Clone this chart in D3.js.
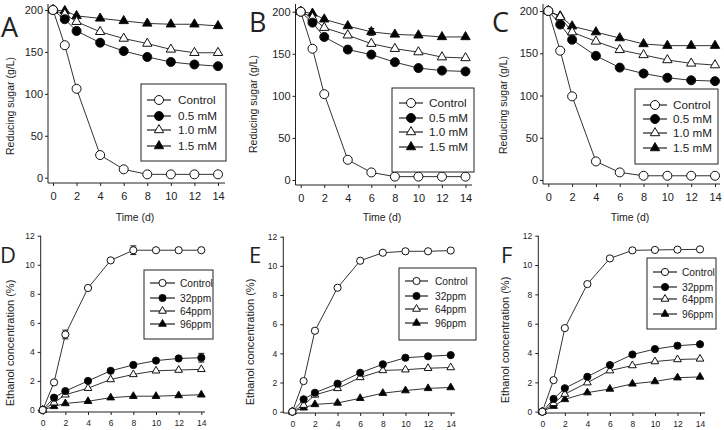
<!DOCTYPE html>
<html><head><meta charset="utf-8">
<script src="https://cdn.jsdelivr.net/npm/d3@7/dist/d3.min.js"></script>
<style>
body{margin:0;background:#fff}
svg{display:block}
text{font-family:"Liberation Sans",Arial,sans-serif;fill:#222}
</style>
</head><body>
<svg id="chart" width="724" height="430"></svg>
<script>
// ---------- DATA ----------
const days = [0, 1, 2, 4, 6, 8, 10, 12, 14];
const xTicks = [0, 2, 4, 6, 8, 10, 12, 14];
const sugarTicks = [0, 50, 100, 150, 200];
const ethanolTicks = [0, 2, 4, 6, 8, 10, 12];
const sugarLabels = ["Control", "0.5 mM", "1.0 mM", "1.5 mM"];
const ethanolLabels = ["Control", "32ppm", "64ppm", "96ppm"];

// Reducing sugar (g/L)
const A_control = [200, 158, 106, 27, 10, 4, 4, 4, 4];
const A_05 = [200, 189, 175, 161, 151, 144, 138, 135, 133];
const A_10 = [200, 195, 186, 174, 166, 160, 153, 149, 149];
const A_15 = [200, 199, 193, 190, 187, 184, 183, 183, 181];

const B_control = [200, 156, 102, 24, 9, 4, 4, 4, 4];
const B_05 = [200, 187, 170, 155, 149, 140, 133, 130, 129];
const B_10 = [200, 193, 181, 172, 162, 156, 152, 146, 145];
const B_15 = [200, 198, 191, 183, 176, 173, 172, 170, 170];

const C_control = [200, 153, 99, 22, 9, 5, 5, 5, 5];
const C_05 = [200, 184, 166, 147, 133, 126, 121, 118, 117];
const C_10 = [200, 193, 175, 164, 154, 148, 142, 138, 136];
const C_15 = [200, 194, 182, 175, 168, 161, 159, 159, 159];

// Ethanol concentration (%)
const D_control = [0, 1.9, 5.2, 8.4, 10.3, 11.0, 11.0, 11.0, 11.0];
const D_32 = [0, 0.85, 1.3, 2.0, 2.7, 3.1, 3.4, 3.55, 3.6];
const D_64 = [0, 0.5, 1.05, 1.5, 2.1, 2.45, 2.7, 2.75, 2.8];
const D_96 = [0, 0.25, 0.45, 0.6, 0.85, 0.95, 0.95, 1.0, 1.05];

const E_control = [0, 2.1, 5.55, 8.5, 10.35, 10.9, 11.0, 11.0, 11.05];
const E_32 = [0, 0.85, 1.3, 1.92, 2.67, 3.25, 3.7, 3.8, 3.88];
const E_64 = [0, 0.45, 1.15, 1.6, 2.35, 2.83, 2.88, 2.98, 3.03];
const E_96 = [0, 0.27, 0.5, 0.6, 0.92, 1.27, 1.45, 1.6, 1.66];

const F_control = [0, 2.15, 5.7, 8.7, 10.45, 11.0, 11.03, 11.05, 11.07];
const F_32 = [0, 0.87, 1.6, 2.38, 3.18, 3.9, 4.27, 4.5, 4.6];
const F_64 = [0, 0.57, 1.2, 1.98, 2.8, 3.15, 3.42, 3.56, 3.6];
const F_96 = [0, 0.38, 0.84, 1.3, 1.55, 1.9, 2.06, 2.32, 2.37];

// visible error bars: [panel, series index, day, half-width]
const errorBars = [
  ["B", 1, 4, 4], ["B", 3, 6, 4],
  ["D", 0, 2, 0.3], ["D", 0, 8, 0.3], ["D", 1, 14, 0.3]
];

// ---------- LAYOUT ----------
const svg = d3.select("#chart");
const styles = [
  {shape: "circle", fill: "#fff"},
  {shape: "circle", fill: "#000"},
  {shape: "triangle", fill: "#fff"},
  {shape: "triangle", fill: "#000"}
];

const panels = [
  {id: "A", series: [A_control, A_05, A_10, A_15], labels: sugarLabels, ticks: sugarTicks, top: true,
   x0: 53, x1: 218, yHi: 10, yLo: 177.7, axX: 48, axY: 183, xEnd: 225, yTop: 4,
   letter: [1, 37], ylab: [10, 106], tlab: 135,
   leg: {x: 141, y: 84, w: 85, h: 77, rows: [100, 116, 130, 146], l0: 147, l1: 171, tx: 178}},
  {id: "B", series: [B_control, B_05, B_10, B_15], labels: sugarLabels, ticks: sugarTicks, top: true,
   x0: 300.7, x1: 465.5, yHi: 11.7, yLo: 180, axX: 295.5, axY: 185, xEnd: 472, yTop: 4,
   letter: [249, 32], ylab: [253, 104], tlab: 382,
   leg: {x: 392, y: 88, w: 82, h: 84, rows: [103, 118, 132, 147], l0: 399, l1: 423, tx: 429}},
  {id: "C", series: [C_control, C_05, C_10, C_15], labels: sugarLabels, ticks: sugarTicks, top: true,
   x0: 548.3, x1: 715, yHi: 11, yLo: 180, axX: 543, axY: 184, xEnd: 720, yTop: 4,
   letter: [492, 32], ylab: [503, 105], tlab: 630,
   leg: {x: 635, y: 89, w: 83, h: 75, rows: [105, 119, 133, 148], l0: 643, l1: 667, tx: 673}},
  {id: "D", series: [D_control, D_32, D_64, D_96], labels: ethanolLabels, ticks: ethanolTicks, top: false,
   x0: 42.7, x1: 201.3, yHi: 235.7, yLo: 410, axX: 40.7, axY: 412, xEnd: 205, yTop: 235.7,
   letter: [0, 263], ylab: [10, 343],
   leg: {x: 144, y: 270, w: 69, h: 69, rows: [283, 298, 311, 324], l0: 150, l1: 175, tx: 180}},
  {id: "E", series: [E_control, E_32, E_64, E_96], labels: ethanolLabels, ticks: ethanolTicks, top: false,
   x0: 292.3, x1: 450.7, yHi: 236.7, yLo: 411.7, axX: 283.3, axY: 413, xEnd: 455, yTop: 236.7,
   letter: [249, 263], ylab: [250, 342],
   leg: {x: 399, y: 268, w: 77, h: 72, rows: [281, 296, 309, 323], l0: 405, l1: 428, tx: 435}},
  {id: "F", series: [F_control, F_32, F_64, F_96], labels: ethanolLabels, ticks: ethanolTicks, top: false,
   x0: 542.3, x1: 700, yHi: 235.7, yLo: 411.7, axX: 538.3, axY: 413, xEnd: 705, yTop: 235.7,
   letter: [501, 263], ylab: [505, 340],
   leg: {x: 647, y: 258, w: 69, h: 71, rows: [272, 287, 299, 314], l0: 653, l1: 677, tx: 682}}
];

function marker(sel, st, top) {
  const r = top ? 4.5 : 3.6;
  if (st.shape === "circle") {
    return sel.append("circle").attr("r", r);
  }
  const size = top ? 38 : 26;
  return sel.append("path").attr("d", d3.symbol(d3.symbolTriangle, size)());
}

panels.forEach(p => {
  const g = svg.append("g");
  const x = d3.scaleLinear().domain([0, 14]).range([p.x0, p.x1]);
  const ymax = p.ticks[p.ticks.length - 1];
  const y = d3.scaleLinear().domain([0, ymax]).range([p.yLo, p.yHi]);
  const fs = p.top ? 11 : 8.5;

  // axes
  const ya = g.append("g").attr("transform", `translate(${p.axX},0)`)
    .call(d3.axisLeft(y).tickValues(p.ticks).tickSize(3).tickPadding(p.top ? 2 : 3));
  const xa = g.append("g").attr("transform", `translate(0,${p.axY})`)
    .call(d3.axisBottom(x).tickValues(xTicks).tickSize(3).tickPadding(p.top ? 6 : 5));
  [ya, xa].forEach(a => {
    a.select(".domain").remove();
    a.selectAll(".tick line").attr("stroke", "#222");
    a.selectAll(".tick text").attr("font-size", fs).attr("fill", "#222")
      .style("font-family", "'Liberation Sans', Arial, sans-serif");
  });
  g.append("line").attr("x1", p.axX).attr("x2", p.axX).attr("y1", p.yTop).attr("y2", p.axY)
    .attr("stroke", "#222").attr("stroke-width", 1);
  g.append("line").attr("x1", p.axX).attr("x2", p.xEnd).attr("y1", p.axY).attr("y2", p.axY)
    .attr("stroke", "#222").attr("stroke-width", 1);

  // error bars
  errorBars.filter(e => e[0] === p.id).forEach(e => {
    const v = p.series[e[1]][days.indexOf(e[2])];
    const cx = x(e[2]);
    g.append("line").attr("x1", cx).attr("x2", cx).attr("y1", y(v - e[3])).attr("y2", y(v + e[3]))
      .attr("stroke", "#111");
    [v - e[3], v + e[3]].forEach(t => g.append("line").attr("x1", cx - 3).attr("x2", cx + 3)
      .attr("y1", y(t)).attr("y2", y(t)).attr("stroke", "#111"));
  });

  // lines
  const line = d3.line().x((d, i) => x(days[i])).y(d => y(d));
  p.series.forEach(s => {
    g.append("path").attr("d", line(s)).attr("fill", "none").attr("stroke", "#333").attr("stroke-width", 1);
  });
  p.series.slice().reverse().forEach((s, ri) => {
    const k = p.series.length - 1 - ri;
    const st = styles[k];
    s.forEach((v, i) => {
      const gg = g.append("g").attr("transform", `translate(${x(days[i])},${y(v)})`);
      marker(gg, st, p.top).attr("fill", st.fill).attr("stroke", "#111").attr("stroke-width", 1);
    });
  });

  // legend
  const L = p.leg;
  g.append("rect").attr("x", L.x).attr("y", L.y).attr("width", L.w).attr("height", L.h)
    .attr("fill", "#fff").attr("stroke", "#222").attr("stroke-width", 1);
  p.labels.forEach((lab, k) => {
    const ry = L.rows[k];
    g.append("line").attr("x1", L.l0).attr("x2", L.l1).attr("y1", ry).attr("y2", ry)
      .attr("stroke", "#222").attr("stroke-width", 1.2);
    const gg = g.append("g").attr("transform", `translate(${(L.l0 + L.l1) / 2},${ry})`);
    marker(gg, styles[k], p.top).attr("fill", styles[k].fill).attr("stroke", "#111");
    g.append("text").attr("x", L.tx).attr("y", ry).attr("dy", "0.35em")
      .attr("font-size", p.top ? 11.7 : 10.2).text(lab);
  });

  // titles
  g.append("text").attr("x", p.letter[0]).attr("y", p.letter[1])
    .attr("font-size", p.top ? 27 : 22).style("font-family", "'Open Sans','Liberation Sans',sans-serif")
    .text(p.id);
  g.append("text").attr("transform", `translate(${p.ylab[0]},${p.ylab[1]}) rotate(-90)`)
    .attr("text-anchor", "middle").attr("dy", "0.35em").attr("font-size", p.top ? 10.5 : 11)
    .text(p.top ? "Reducing sugar (g/L)" : "Ethanol concentration (%)");
  if (p.top) {
    g.append("text").attr("x", p.tlab).attr("y", 221).attr("text-anchor", "middle")
      .attr("font-size", 10.5).text("Time (d)");
  }
});
</script>
</body></html>
